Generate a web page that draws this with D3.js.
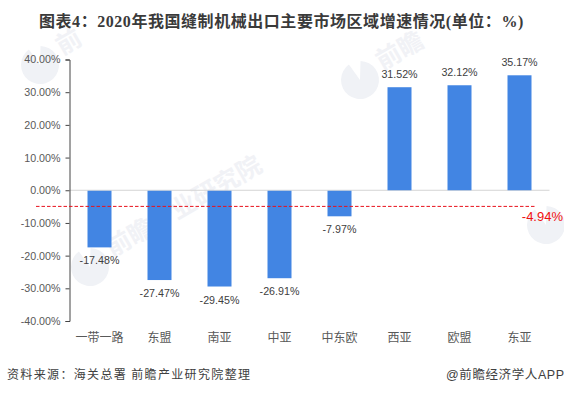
<!DOCTYPE html>
<html>
<head>
<meta charset="utf-8">
<script src="https://cdn.jsdelivr.net/npm/d3@7"></script>
<style>
  html, body { margin: 0; padding: 0; background: #fff; }
  svg { display: block; }
</style>
</head>
<body>
<script>
const categories = ["一带一路", "东盟", "南亚", "中亚", "中东欧", "西亚", "欧盟", "东亚"]
const growth = [-17.48, -27.47, -29.45, -26.91, -7.97, 31.52, 32.12, 35.17]
const yTicks = [40, 30, 20, 10, 0, -10, -20, -30, -40]
const overall = -4.94

// watermark spots: logo x, y and the words that fit inside the picture
const marks = [[40, 65, "前"], [360, 80, "前瞻"], [90, 267, "前瞻产业研究院"], [546, 225, ""]]

const title = "图表4：2020年我国缝制机械出口主要市场区域增速情况(单位：%)"
const source = "资料来源：海关总署 前瞻产业研究院整理"
const credit = "@前瞻经济学人APP"

const latin = "'Liberation Sans', 'Noto Sans CJK SC', sans-serif"

const canvas = d3.select("body").append("svg")
                .attr("width", 564)
                .attr("height", 395)

const x = d3.scaleBand()
            .domain(categories)
            .range([69.5, 549.5])
            .paddingInner(0.6)
            .paddingOuter(0.3)

const y = d3.scaleLinear()
            .domain([-40, 40])
            .range([321, 59.5])

// faint watermark first so it sits under the bars
const wm = canvas.append("g").selectAll("g")
                .data(marks)
                .enter()
                .append("g")
                .attr("transform", (d) => "translate(" + d[0] + "," + d[1] + ") rotate(-30)")

const logo = d3.arc()
            .innerRadius(0)
            .outerRadius(19)
            .startAngle(0.55)
            .endAngle(Math.PI * 2 - 0.1)

wm.append("path")
    .attr("d", logo())
    .attr("fill", "#f0f2f6")

wm.append("text")
    .attr("x", 24)
    .attr("y", 3)
    .attr("font-family", "'Noto Sans CJK SC'")
    .attr("font-size", 25)
    .attr("font-weight", 700)
    .attr("fill", "#f1f2f6")
    .text((d) => d[2])

// zero line
canvas.append("line")
    .attr("x1", 69.5)
    .attr("x2", 549.5)
    .attr("y1", y(0))
    .attr("y2", y(0))
    .attr("stroke", "#d4d4d4")
    .attr("stroke-width", 1)

canvas.append("g")
    .selectAll("rect")
    .data(growth)
    .enter()
    .append("rect")
    .attr("x", (d, i) => x(categories[i]))
    .attr("y", (d) => d > 0 ? y(d) : y(0) + 0.5)
    .attr("width", x.bandwidth())
    .attr("height", (d) => Math.abs(y(d) - y(0)) - (d > 0 ? 0 : 0.5))
    .attr("fill", "#4285e3")

const yAxis = d3.axisLeft(y)
                .tickValues(yTicks)
                .tickSize(4)
                .tickPadding(5)
                .tickFormat((d) => d.toFixed(2) + "%")

const yG = canvas.append("g")
                .attr("transform", "translate(69.5, 0)")
                .call(yAxis)

yG.select(".domain").attr("stroke", "#444").attr("stroke-width", 1)
yG.selectAll(".tick line").attr("stroke", "#444")
yG.selectAll(".tick text")
    .attr("font-family", latin)
    .attr("font-size", 10.7)
    .attr("fill", "#595959")

// category labels, no axis line of their own
canvas.append("g")
    .selectAll("text")
    .data(categories)
    .enter()
    .append("text")
    .attr("x", (d) => x(d) + x.bandwidth() / 2)
    .attr("y", 342)
    .attr("text-anchor", "middle")
    .attr("font-family", "'Noto Sans CJK SC'")
    .attr("font-size", 12)
    .attr("fill", "#595959")
    .text((d) => d)

// value labels
canvas.append("g")
    .selectAll("text")
    .data(growth)
    .enter()
    .append("text")
    .attr("x", (d, i) => x(categories[i]) + x.bandwidth() / 2)
    .attr("y", (d) => d > 0 ? y(d) - 9 : y(d) + 17)
    .attr("text-anchor", "middle")
    .attr("font-family", latin)
    .attr("font-size", 10.7)
    .attr("fill", "#404040")
    .text((d) => d.toFixed(2) + "%")

// overall growth reference line
canvas.append("line")
    .attr("x1", 36)
    .attr("x2", 536)
    .attr("y1", y(overall))
    .attr("y2", y(overall))
    .attr("stroke", "#e8121d")
    .attr("stroke-width", 1)
    .attr("stroke-dasharray", "3.5 2")

canvas.append("text")
    .attr("x", 563)
    .attr("y", y(overall) + 15)
    .attr("text-anchor", "end")
    .attr("font-family", latin)
    .attr("font-size", 13)
    .attr("fill", "#f01010")
    .text(overall.toFixed(2) + "%")

canvas.append("text")
    .attr("x", 39)
    .attr("y", 27)
    .attr("font-family", "'Liberation Serif', 'Noto Sans CJK SC'")
    .attr("font-size", 16)
    .attr("font-weight", 700)
    .attr("letter-spacing", 0.55)
    .attr("fill", "#3a3a3a")
    .text(title)

canvas.append("text")
    .attr("x", 7)
    .attr("y", 379)
    .attr("font-family", "'Noto Sans CJK SC'")
    .attr("font-size", 12)
    .attr("letter-spacing", 1.35)
    .attr("fill", "#404040")
    .text(source)

canvas.append("text")
    .attr("x", 446)
    .attr("y", 379)
    .attr("font-family", latin)
    .attr("font-size", 12.5)
    .attr("letter-spacing", 0.6)
    .attr("fill", "#404040")
    .text(credit)
</script>
</body>
</html>
